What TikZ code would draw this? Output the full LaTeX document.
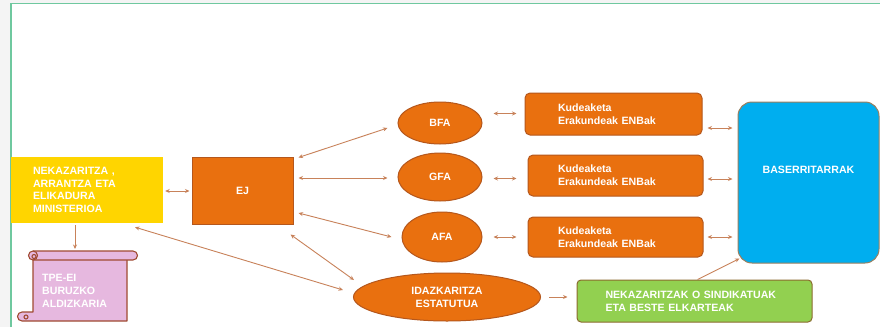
\documentclass[tikz,border=0pt]{standalone}
\usepackage{fontspec}
\setmainfont{Liberation Sans}
\usetikzlibrary{shapes.geometric,arrows.meta,calc}
\definecolor{bgray}{HTML}{F4F4F4}
\definecolor{framegreen}{HTML}{6FC89F}
\definecolor{org}{HTML}{E9700F}
\definecolor{orgdark}{HTML}{B5571C}
\definecolor{yel}{HTML}{FFD500}
\definecolor{pinkfill}{HTML}{E6B8DF}
\definecolor{scrollline}{HTML}{A04A32}
\definecolor{bluefill}{HTML}{00AEEF}
\definecolor{blueline}{HTML}{9A7F5E}
\definecolor{grnfill}{HTML}{92D050}
\definecolor{grnline}{HTML}{8B6B2E}
\definecolor{arrcol}{HTML}{C8825A}
\tikzset{
  txt/.style={text=white, font=\fontsize{10.6}{12.8}\selectfont\bfseries},
  orgbox/.style={txt, fill=org, draw=orgdark, line width=1pt},
  orgell/.style={orgbox, ellipse, inner sep=0pt},
  kbox/.style={orgbox, rounded corners=5pt, align=left, minimum height=41pt},
  arr/.style={draw=arrcol, line width=0.9pt, {Stealth[length=4.5pt,width=4pt]}-{Stealth[length=4.5pt,width=4pt]}},
  arrone/.style={draw=arrcol, line width=0.9pt, -{Stealth[length=4.5pt,width=4pt]}},
  scrollst/.style={fill=pinkfill, draw=scrollline, line width=1.1pt, line join=round}
}
\begin{document}
\begin{tikzpicture}[x=1pt,y=-1pt]
\useasboundingbox (0,0) rectangle (880,327);
\fill[bgray] (0,0) rectangle (880,327);
\fill[white] (11,3.5) rectangle (880,327);
\draw[framegreen, line width=1.3pt] (11,327) -- (11,3.5) -- (880,3.5);

% ministry box
\node[txt, fill=yel, align=left, text width=108pt, inner xsep=22pt, minimum height=66pt] (min) at (87,190) {NEKAZARITZA ,\\ARRANTZA ETA\\ELIKADURA\\MINISTERIOA};
% EJ
\node[orgbox, minimum width=101pt, minimum height=67pt] (ej) at (242.5,190.5) {EJ};
% ellipses
\node[orgell, minimum width=84pt, minimum height=42pt] (bfa) at (440,123) {BFA};
\node[orgell, minimum width=84pt, minimum height=48pt] (gfa) at (440,177) {GFA};
\node[orgell, minimum width=80pt, minimum height=50pt] (afa) at (442,237) {AFA};
\node[orgell, minimum width=187pt, minimum height=48pt, align=center] (ida) at (447,297) {IDAZKARITZA\\ESTATUTUA};
% kudeaketa boxes
\node[kbox, text width=111pt, inner xsep=33pt, minimum height=42pt] (k1) at (613.5,114) {Kudeaketa\\Erakundeak ENBak};
\node[kbox, text width=115pt, inner xsep=30pt] (k2) at (615.5,175.5) {Kudeaketa\\Erakundeak ENBak};
\node[kbox, text width=115pt, inner xsep=30pt, minimum height=40pt] (k3) at (615.5,237) {Kudeaketa\\Erakundeak ENBak};
% baserritarrak
\node[fill=bluefill, draw=blueline, line width=1pt, rounded corners=14pt, minimum width=141pt, minimum height=161pt] (bas) at (808.5,182.5) {};
\node[txt, inner sep=0pt] (bastxt) at ($(bas)+(0,-12.5)$) {BASERRITARRAK};
% green box
\node[txt, fill=grnfill, draw=grnline, line width=1pt, rounded corners=4pt, align=left, text width=178pt, inner xsep=28.5pt, minimum height=42pt] (grn) at (694.5,301) {NEKAZARITZAK O SINDIKATUAK\\ETA BESTE ELKARTEAK};

% scroll
\draw[scrollst] (127,256) -- (127,321) -- (22,321) arc[start angle=-90,end angle=-270,radius=4.5pt] -- (33,312) -- (33,256);
\draw[scrollst] (26,317) circle[radius=2pt];
\draw[scrollst] (33,251) -- (133,251) arc[start angle=90,end angle=-90,radius=4.5pt] -- (33,260);
\draw[scrollst] (33,255.5) circle[radius=4.5pt];
\draw[scrollst] (34,256.5) circle[radius=2pt];
\coordinate (scrolltop) at (75,249);
\node[txt, align=left, inner sep=0pt, anchor=west] (tpe) at (42,291) {TPE-EI\\BURUZKO\\ALDIZKARIA};

% connectors
\draw[arr] ($(min.east)+(2,1)$) -- ($(ej.west)+(-2,0.5)$);
\draw[arrone] ($(min.south)+(-12,2)$) -- (scrolltop);
\draw[arr] ($(min.south)+(48,4)$) -- ($(ida.west)+(-10,-7)$);
\draw[arr] ($(ej.north east)+(5,1)$) -- ($(bfa.west)+(-10,5)$);
\draw[arr] ($(ej.east)+(5,-12.5)$) -- ($(gfa.west)+(-10,1)$);
\draw[arr] ($(ej.east)+(5,22.5)$) -- ($(afa.west)+(-10,0)$);
\draw[arr] ($(ej.south east)+(-3,10)$) -- ($(ida.west)+(1,-17)$);
\draw[arr] ($(bfa.east)+(11,-9.5)$) -- ($(k1.west)+(-8,-0.5)$);
\draw[arr] ($(gfa.east)+(11,1.5)$) -- ($(k2.west)+(-11,3)$);
\draw[arr] ($(afa.east)+(11,0)$) -- ($(k3.west)+(-11,0)$);
\draw[arr] ($(k1.east)+(5,14)$) -- ($(bas.west)+(-5,-54.5)$);
\draw[arr] ($(k2.east)+(4,3.5)$) -- ($(bas.west)+(-5,-3.5)$);
\draw[arr] ($(k3.east)+(4,0)$) -- ($(bas.west)+(-5,54.5)$);
\draw[arrone] ($(grn.north)+(3,0)$) -- ($(bas.south west)+(2,-5)$);
\draw[arrone] ($(ida.east)+(8,0)$) -- ($(grn.west)+(-9,-4)$);
\end{tikzpicture}
\end{document}
